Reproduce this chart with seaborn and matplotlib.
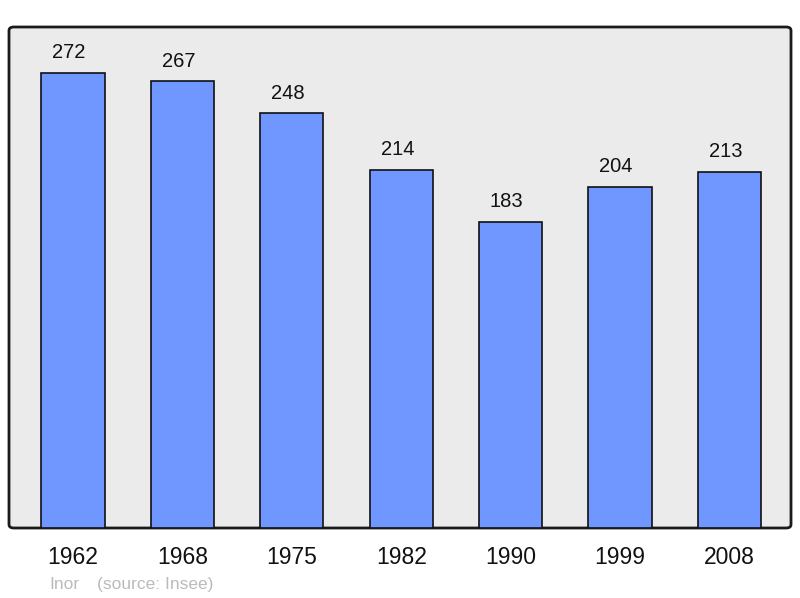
import matplotlib
matplotlib.use("Agg")
import matplotlib.pyplot as plt
import seaborn as sns
import pandas as pd
from matplotlib.patches import FancyBboxPatch

years = ["1962", "1968", "1975", "1982", "1990", "1999", "2008"]
population = [272, 267, 248, 214, 183, 204, 213]

sns.set_theme(style="white")
plt.rcParams["font.family"] = ["Liberation Sans", "DejaVu Sans"]

df = pd.DataFrame({"year": years, "pop": population})

fig = plt.figure(figsize=(8, 5.98), dpi=100)
ax = fig.add_axes([9/800, 1 - 528/598, 782/800, 501/598])
ax.set_facecolor("none")

# rounded frame background
frame = FancyBboxPatch((9/800, 1 - 528/598), 782/800, 501/598,
                       boxstyle="round,pad=0,rounding_size=0.006",
                       transform=fig.transFigure, facecolor="#ebebeb",
                       edgecolor="#1a1a1a", linewidth=2, zorder=-5, clip_on=False)
ax.add_artist(frame)

sns.barplot(data=df, x="year", y="pop", color="#7096ff", width=0.576,
            edgecolor="#111111", linewidth=1.2, saturation=1, ax=ax, zorder=2)

for i, v in enumerate(population):
    ax.text(i - 0.035, v + 12, str(v), ha="center", va="center", fontsize=14.5, color="#111111")

ax.set_xlim(-0.585, 6.563)
ax.set_ylim(0, 299.5)
ax.set_xlabel("")
ax.set_ylabel("")
ax.set_yticks([])
ax.tick_params(axis="x", length=0, pad=13, labelsize=16.5, labelcolor="#111111")
for s in ax.spines.values():
    s.set_visible(False)

fig.text(49/800, 1 - 589/598, "Inor", fontsize=12.5, color="#bbbbbb", va="baseline", ha="left")
fig.text(97/800, 1 - 589/598, "(source: Insee)", fontsize=12.5, color="#bbbbbb", va="baseline", ha="left")

fig.savefig("out.png", dpi=100)
